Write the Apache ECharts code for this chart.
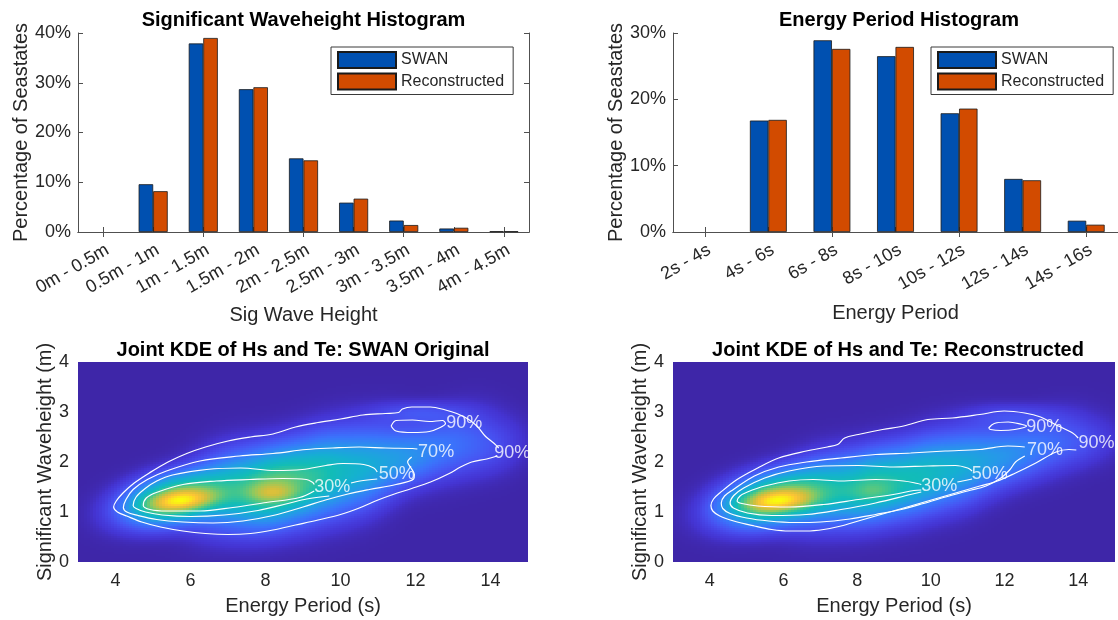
<!DOCTYPE html>
<html>
<head>
<meta charset="utf-8">
<script src="https://cdn.jsdelivr.net/npm/echarts@6/dist/echarts.min.js"></script>
<style>
  html, body { margin: 0; padding: 0; background: #ffffff; }
  #chart { width: 1118px; height: 620px; }
</style>
</head>
<body>
<div id="chart"></div>
<script>
// ---------- histogram data (percentage of seastates per bin) ----------
const hsCats = ['0m - 0.5m', '0.5m - 1m', '1m - 1.5m', '1.5m - 2m', '2m - 2.5m',
                '2.5m - 3m', '3m - 3.5m', '3.5m - 4m', '4m - 4.5m'];
const hsSwan  = [0, 9.6, 37.9, 28.7, 14.8, 5.9, 2.3, 0.7, 0.15];
const hsRecon = [0, 8.2, 39.0, 29.1, 14.4, 6.7, 1.4, 0.85, 0.15];

const teCats = ['2s - 4s', '4s - 6s', '6s - 8s', '8s - 10s', '10s - 12s', '12s - 14s', '14s - 16s'];
const teSwan  = [0, 16.8, 28.9, 26.5, 17.9, 8.0, 1.7];
const teRecon = [0, 16.9, 27.6, 27.9, 18.6, 7.8, 1.1];

// ---------- joint KDE panels ----------
const teTickLabels = [4, 6, 8, 10, 12, 14];
const hsTickLabels = [0, 1, 2, 3, 4];

// kernel components of each density: [Te, Hs, sdTe, sdHs, rho, weight]
const swanKernels = [
  [5.60, 1.27, 0.80, 0.30, 0.35, 0.55],
  [5.75, 1.22, 0.60, 0.15, 0.30, 0.40],
  [7.00, 1.45, 0.65, 0.46, 0.20, 0.22],
  [8.20, 1.50, 0.65, 0.45, 0.25, 0.44],
  [8.20, 1.38, 0.45, 0.13, 0.00, 0.20],
  [9.40, 1.72, 0.65, 0.50, 0.30, 0.28],
  [10.6, 1.85, 0.65, 0.50, 0.30, 0.19],
  [11.8, 2.10, 0.65, 0.36, 0.30, 0.13],
  [13.0, 2.35, 0.65, 0.42, 0.30, 0.075],
  [14.0, 2.28, 0.60, 0.35, 0.20, 0.04],
  [12.1, 2.98, 0.80, 0.14, 0.00, 0.05]
];
const reconKernels = [
  [5.75, 1.27, 0.85, 0.32, 0.35, 0.58],
  [5.85, 1.22, 0.65, 0.15, 0.25, 0.42],
  [7.10, 1.42, 0.65, 0.42, 0.20, 0.22],
  [8.40, 1.52, 0.65, 0.42, 0.25, 0.36],
  [8.50, 1.40, 0.45, 0.13, 0.00, 0.10],
  [9.70, 1.72, 0.65, 0.45, 0.30, 0.27],
  [10.9, 1.90, 0.65, 0.45, 0.30, 0.19],
  [12.1, 2.12, 0.65, 0.36, 0.30, 0.13],
  [13.2, 2.35, 0.65, 0.38, 0.30, 0.07],
  [14.2, 2.38, 0.60, 0.30, 0.20, 0.035],
  [12.2, 2.92, 0.80, 0.14, 0.00, 0.045]
];

// probability contour lines, [Te, Hs] vertices (gaps left where labels sit)
const swanContours = [
  [[14.18,2.12],[13.9,2.06],[13.5,2.0],[13.2,1.9],[12.9,1.77],[12.4,1.6],[11.9,1.47],[11.4,1.35],[11.0,1.24],
   [10.5,1.08],[10.0,0.95],[9.4,0.84],[8.8,0.74],[8.2,0.64],[7.6,0.57],[7.0,0.55],[6.4,0.57],[5.8,0.62],
   [5.2,0.70],[4.7,0.80],[4.3,0.92],[4.05,1.0],[3.95,1.1],[4.02,1.22],[4.2,1.38],[4.5,1.58],[4.9,1.78],
   [5.4,2.0],[5.9,2.17],[6.4,2.3],[7.0,2.42],[7.6,2.5],[8.2,2.56],[8.8,2.7],[9.4,2.79],[10.0,2.86],
   [10.6,2.94],[11.2,2.97],[11.55,2.99],[11.65,3.06],[11.9,3.1],[12.4,3.1],[12.8,3.04],[13.1,2.97],
   [13.4,2.86],[13.65,2.71],[13.87,2.51],[14.1,2.37],[14.22,2.28]],
  [[11.35,2.72],[11.48,2.83],[11.92,2.84],[12.37,2.81],[12.72,2.83],[12.8,2.77],[12.63,2.68],[12.37,2.61],
   [11.92,2.59],[11.48,2.62],[11.35,2.72]],
  [[11.9,2.1],[11.79,2.0],[11.88,1.88],[11.97,1.75],[11.95,1.66],[11.48,1.55],[10.77,1.45],[10.2,1.36],
   [9.6,1.24],[9.0,1.1],[8.2,0.93],[7.4,0.82],[6.6,0.78],[5.8,0.8],[5.1,0.85],[4.6,0.93],[4.3,1.0],
   [4.21,1.09],[4.28,1.25],[4.47,1.45],[4.85,1.65],[5.36,1.82],[6.25,2.02],[7.31,2.12],[8.2,2.17],
   [9.09,2.25],[9.79,2.28],[10.5,2.3],[11.2,2.28],[11.92,2.27],[12.05,2.26]],
  [[10.98,1.66],[10.52,1.62],[10.28,1.58]],
  [[9.7,1.32],[9.1,1.26],[8.6,1.17],[7.8,1.03],[6.9,0.94],[6.0,0.91],[5.25,0.94],[4.8,1.0],[4.55,1.07],
   [4.47,1.13],[4.55,1.3],[4.79,1.47],[5.1,1.62],[5.52,1.74],[6.43,1.85],[7.34,1.88],[8.25,1.83],
   [8.98,1.85],[9.61,1.93],[10.07,1.97],[10.62,1.95],[10.89,1.88],[10.98,1.8]],
  [[9.3,1.42],[8.91,1.29],[8.02,1.19],[7.13,1.09],[6.25,1.02],[5.36,1.02],[4.92,1.05],[4.74,1.13],
   [4.82,1.28],[5.09,1.39],[5.8,1.55],[6.69,1.62],[7.58,1.65],[8.46,1.67],[9.09,1.65],[9.26,1.59],[9.3,1.55]]
];
const swanLabels = [[9.78, 1.5, '30%'], [11.5, 1.75, '50%'], [12.55, 2.2, '70%'],
                    [13.3, 2.77, '90%'], [14.58, 2.17, '90%']];

const reconContours = [
  [[13.95,2.24],[13.75,2.25],[13.4,2.2],[12.85,1.98],[12.3,1.78],[11.81,1.62],[11.33,1.52],[10.86,1.42],
   [10.39,1.32],[9.92,1.22],[9.45,1.12],[8.98,1.02],[8.5,0.92],[8.03,0.82],[7.56,0.72],[7.09,0.65],
   [6.62,0.62],[6.15,0.62],[5.68,0.65],[5.21,0.72],[4.65,0.82],[4.27,0.92],[4.08,1.02],[4.03,1.13],
   [4.1,1.26],[4.27,1.38],[4.74,1.65],[5.3,1.88],[5.87,2.08],[6.62,2.22],[7.19,2.3],[7.47,2.35],
   [7.66,2.48],[8.03,2.55],[8.69,2.65],[9.26,2.72],[9.92,2.85],[10.58,2.88],[11.33,2.95],[11.99,3.02],
   [12.55,2.98],[12.98,2.9],[13.35,2.76],[13.85,2.58],[14.0,2.48]],
  [[11.57,2.68],[11.72,2.77],[12.1,2.8],[12.48,2.75],[12.6,2.72],[12.28,2.65],[11.9,2.63],[11.62,2.65],[11.57,2.68]],
  [[12.55,2.12],[12.3,2.0],[12.15,1.85],[11.9,1.68],[11.5,1.52],[11.0,1.42],[10.4,1.3],[9.8,1.17],[9.2,1.05],
   [8.5,0.95],[7.8,0.86],[7.0,0.8],[6.3,0.79],[5.6,0.82],[5.0,0.88],[4.55,0.97],[4.35,1.07],[4.31,1.18],
   [4.4,1.32],[4.64,1.45],[5.21,1.72],[5.87,1.9],[6.62,2.0],[7.56,2.08],[8.5,2.15],[9.45,2.18],
   [10.39,2.22],[11.33,2.25],[12.09,2.32],[12.55,2.3]],
  [[11.12,1.66],[10.86,1.62],[10.72,1.6]],
  [[9.74,1.4],[9.45,1.35],[8.5,1.18],[7.56,1.05],[6.62,0.95],[5.68,0.93],[5.02,0.98],[4.64,1.08],[4.55,1.18],
   [4.65,1.33],[4.92,1.48],[5.49,1.68],[6.15,1.82],[7.09,1.92],[8.03,1.93],[8.98,1.9],[9.92,1.92],
   [10.67,1.93],[11.0,1.88],[11.12,1.82]],
  [[9.74,1.44],[9.54,1.43],[8.98,1.35],[8.03,1.25],[7.09,1.15],[6.15,1.1],[5.3,1.12],[4.87,1.17],[4.74,1.22],
   [4.82,1.32],[5.02,1.4],[5.49,1.52],[6.15,1.62],[6.81,1.65],[7.56,1.62],[8.5,1.65],[9.26,1.62],[9.64,1.57],[9.74,1.55]]
];
const reconLabels = [[10.23, 1.52, '30%'], [11.6, 1.75, '50%'], [13.1, 2.24, '70%'],
                     [13.08, 2.7, '90%'], [14.5, 2.37, '90%']];

// ---------- styling ----------
const FONT = '"Liberation Sans", Arial, Helvetica, sans-serif';
const INK = '#262626';
const FRAME = '#505050';
const BLUE = '#0050b0';
const ORANGE = '#d24b00';
const PARULA = ['#3e26a8', '#4535d6', '#4752f2', '#3a74fc', '#2796eb', '#15afd2',
                '#12bdb6', '#43c68d', '#8fc95f', '#d3bf3d', '#fdc434', '#f9fb0e'];
const COLOR_GAMMA = 0.6;   // stretches the low end of the colour scale

// evenly sampled colour ramp for the visual map, with the gamma applied
function rampColors(stops, n, gamma) {
  const rgb = stops.map(h => [1, 3, 5].map(k => parseInt(h.substr(k, 2), 16)));
  const out = [];
  for (let k = 0; k < n; k++) {
    const p = Math.pow(k / (n - 1), gamma) * (rgb.length - 1);
    const i = Math.min(Math.floor(p), rgb.length - 2), f = p - i;
    const c = rgb[i].map((v, d) => Math.round(v + (rgb[i + 1][d] - v) * f));
    out.push('rgb(' + c.join(',') + ')');
  }
  return out;
}

// density grid for the image panels (Te from 3 to 15, Hs from 0 to 4)
const TE_MIN = 3, TE_MAX = 15, HS_MIN = 0, HS_MAX = 4;
const NCOL = 150, NROW = 100;
const DTE = (TE_MAX - TE_MIN) / NCOL, DHS = (HS_MAX - HS_MIN) / NROW;

function density(kernels, te, hs) {
  let s = 0;
  for (const [mx, my, sx, sy, r, w] of kernels) {
    const dx = (te - mx) / sx, dy = (hs - my) / sy;
    const q = (dx * dx - 2 * r * dx * dy + dy * dy) / (1 - r * r);
    s += w * Math.exp(-0.5 * q);
  }
  return s;
}
function buildGrid(kernels) {
  const cells = [];
  let peak = 0;
  for (let i = 0; i < NCOL; i++) {
    const te = TE_MIN + (i + 0.5) * DTE;
    for (let j = 0; j < NROW; j++) {
      const hs = HS_MIN + (j + 0.5) * DHS;
      const v = density(kernels, te, hs);
      if (v > peak) peak = v;
      cells.push([te, hs, v]);
    }
  }
  return cells.map(c => [c[0], c[1], c[2] / peak]);
}

const chart = echarts.init(document.getElementById('chart'), null, { renderer: 'canvas' });

const tickText = { fontSize: 18, color: INK, fontFamily: FONT };
const nameText = { fontSize: 20, color: INK, fontFamily: FONT };
const frameLine = { show: true, lineStyle: { color: FRAME, width: 1 } };
const innerTick = { show: true, inside: true, length: 5, lineStyle: { color: FRAME, width: 1 } };

function barXAxes(grid, cats, title, gap) {
  return [
    { type: 'category', gridIndex: grid, data: cats, position: 'bottom',
      axisLine: frameLine, axisTick: Object.assign({ alignWithLabel: true }, innerTick),
      axisLabel: Object.assign({ rotate: 30, margin: 9, interval: 0, verticalAlign: 'top' }, tickText),
      name: title, nameLocation: 'middle', nameGap: gap, nameTextStyle: nameText },
    { type: 'category', gridIndex: grid, data: cats, position: 'top',
      axisLine: frameLine, axisTick: Object.assign({ alignWithLabel: true }, innerTick),
      axisLabel: { show: false } }
  ];
}
function barYAxes(grid, max, rightTicks) {
  return [
    { type: 'value', gridIndex: grid, position: 'left', min: 0, max: max, interval: 10,
      axisLine: frameLine, axisTick: innerTick, splitLine: { show: false },
      axisLabel: Object.assign({ formatter: '{value}%', margin: 7 }, tickText),
      name: 'Percentage of Seastates', nameLocation: 'middle', nameGap: 47, nameTextStyle: nameText },
    { type: 'value', gridIndex: grid, position: 'right', min: 0, max: max, interval: 10,
      axisLine: frameLine, axisTick: rightTicks ? innerTick : { show: false },
      splitLine: { show: false }, axisLabel: { show: false } }
  ];
}
function kdeXAxis(grid) {
  return { type: 'value', gridIndex: grid, position: 'bottom', min: TE_MIN, max: TE_MAX, interval: 1,
    axisLine: { show: false }, axisTick: { show: false }, splitLine: { show: false },
    axisLabel: Object.assign({ margin: 10,
      formatter: v => (teTickLabels.indexOf(v) >= 0 ? String(v) : '') }, tickText),
    name: 'Energy Period (s)', nameLocation: 'middle', nameGap: 34, nameTextStyle: nameText };
}
function kdeYAxis(grid) {
  return { type: 'value', gridIndex: grid, position: 'left', min: HS_MIN, max: HS_MAX, interval: 1,
    axisLine: { show: false }, axisTick: { show: false }, splitLine: { show: false },
    axisLabel: Object.assign({ margin: 9,
      formatter: v => (hsTickLabels.indexOf(v) >= 0 ? String(v) : '') }, tickText),
    name: 'Significant Waveheight (m)', nameLocation: 'middle', nameGap: 23, nameTextStyle: nameText };
}

function barSeries(name, color, data, xi, yi) {
  return { type: 'bar', name: name, xAxisIndex: xi, yAxisIndex: yi,
           data: data.map(v => (v > 0 ? v : null)),
           barGap: '0%', barCategoryGap: '42%', animation: false,
           itemStyle: { color: color, borderColor: '#1a1a1a', borderWidth: 0.8 } };
}

// density image: one rectangle per grid cell, snapped to whole pixels so cells abut cleanly
function renderCell(params, api) {
  const te = api.value(0), hs = api.value(1);
  const a = api.coord([te - DTE / 2, hs + DHS / 2]);
  const b = api.coord([te + DTE / 2, hs - DHS / 2]);
  const x0 = Math.round(a[0]), y0 = Math.round(a[1]);
  const x1 = Math.round(b[0]), y1 = Math.round(b[1]);
  return { type: 'rect', shape: { x: x0, y: y0, width: x1 - x0, height: y1 - y0 },
           style: { fill: api.visual('color') } };
}

function kdePanel(kernels, contours, labels, axisIndex) {
  const out = [{
    type: 'custom', xAxisIndex: axisIndex, yAxisIndex: axisIndex, data: buildGrid(kernels),
    dimensions: ['te', 'hs', 'density'], encode: { x: 0, y: 1 },
    renderItem: renderCell, progressive: 0, animation: false, silent: true, z: 1, clip: true
  }];
  contours.forEach(path => out.push({
    type: 'line', xAxisIndex: axisIndex, yAxisIndex: axisIndex, data: path, symbol: 'none', smooth: 0.35,
    lineStyle: { color: '#ffffff', width: 1.2 }, animation: false, silent: true, z: 5
  }));
  out.push({
    type: 'scatter', xAxisIndex: axisIndex, yAxisIndex: axisIndex, symbolSize: 0, silent: true, z: 6,
    animation: false,
    data: labels.map(l => ({ value: [l[0], l[1]], name: l[2] })),
    label: { show: true, position: 'inside', formatter: p => p.name,
             color: '#ffffff', fontSize: 18, fontFamily: FONT }
  });
  return out;
}

const series = [
  barSeries('SWAN', BLUE, hsSwan, 0, 0),
  barSeries('Reconstructed', ORANGE, hsRecon, 0, 0),
  barSeries('SWAN', BLUE, teSwan, 2, 2),
  barSeries('Reconstructed', ORANGE, teRecon, 2, 2)
];
const swanImageIndex = series.length;
series.push(...kdePanel(swanKernels, swanContours, swanLabels, 4));
const reconImageIndex = series.length;
series.push(...kdePanel(reconKernels, reconContours, reconLabels, 5));

const legendBase = {
  data: ['SWAN', 'Reconstructed'], orient: 'vertical', icon: 'rect',
  itemWidth: 58, itemHeight: 16, itemGap: 3.5, padding: [4, 9, 4, 6],
  backgroundColor: '#ffffff', borderColor: '#3a3a3a', borderWidth: 1, borderRadius: 0,
  textStyle: { fontSize: 16, color: INK, fontFamily: FONT }, selectedMode: false
};

const titleStyle = { fontSize: 20, fontWeight: 'bold', color: '#000000', fontFamily: FONT };

chart.setOption({
  animation: false,
  backgroundColor: '#ffffff',
  textStyle: { fontFamily: FONT },
  title: [
    { text: 'Significant Waveheight Histogram', left: 303.5, top: 10, textAlign: 'center', padding: 0, textStyle: titleStyle },
    { text: 'Energy Period Histogram', left: 899, top: 10, textAlign: 'center', padding: 0, textStyle: titleStyle },
    { text: 'Joint KDE of Hs and Te: SWAN Original', left: 303, top: 340, textAlign: 'center', padding: 0, textStyle: titleStyle },
    { text: 'Joint KDE of Hs and Te: Reconstructed', left: 898, top: 340, textAlign: 'center', padding: 0, textStyle: titleStyle }
  ],
  legend: [
    Object.assign({ left: 331, top: 47 }, legendBase),
    Object.assign({ left: 931, top: 47 }, legendBase)
  ],
  grid: [
    { left: 78, top: 33, width: 451, height: 199 },
    { left: 673, top: 33, width: 452, height: 199 },
    { left: 78, top: 362, width: 450, height: 200 },
    { left: 673, top: 362, width: 450, height: 200 }
  ],
  xAxis: [
    ...barXAxes(0, hsCats, 'Sig Wave Height', 73),
    ...barXAxes(1, teCats, 'Energy Period', 71),
    kdeXAxis(2),
    kdeXAxis(3)
  ],
  yAxis: [
    ...barYAxes(0, 40, true),
    ...barYAxes(1, 30, false),
    kdeYAxis(2),
    kdeYAxis(3)
  ],
  visualMap: {
    type: 'continuous', show: false, min: 0, max: 1, dimension: 2,
    seriesIndex: [swanImageIndex, reconImageIndex],
    inRange: { color: rampColors(PARULA, 64, COLOR_GAMMA) }
  },
  series: series
});
</script>
</body>
</html>
